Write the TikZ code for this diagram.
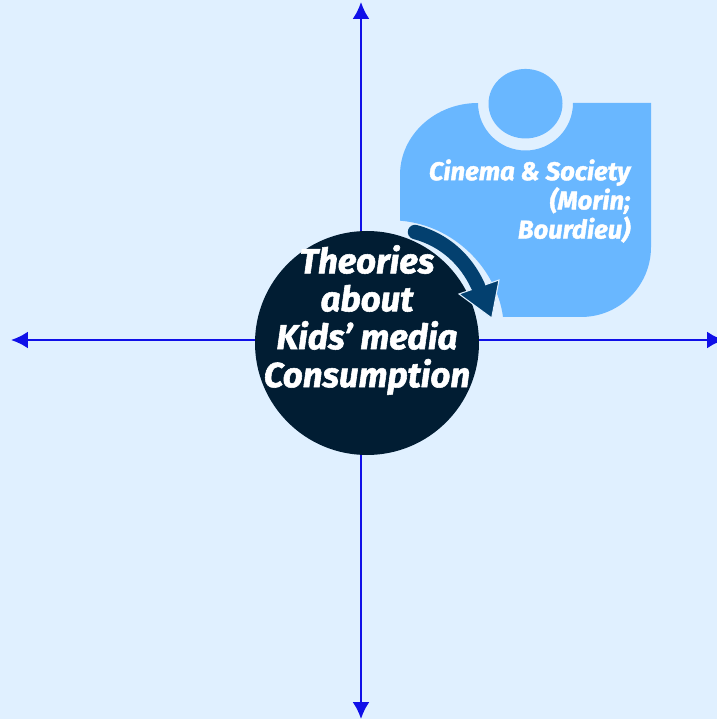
\documentclass[tikz,border=0pt]{standalone}
\usepackage{fontspec}
\setmainfont{Fira Sans}[BoldItalicFeatures = {FakeBold = 1.6}]
\usetikzlibrary{arrows.meta, shapes.geometric}
\definecolor{pagebg}{HTML}{E0F0FF}
\definecolor{cardblue}{HTML}{69B7FF}
\definecolor{hubnavy}{HTML}{011D33}
\definecolor{bendblue}{HTML}{03406F}
\definecolor{axisblue}{HTML}{1010E8}
\begin{document}
\begin{tikzpicture}[
        axis/.style = {draw = axisblue, line width = 0.6pt, -{Latex[length = 1.7mm, width = 1.7mm]}},
        hub/.style = {circle, minimum size = 2.24cm, inner sep = 0pt, fill = hubnavy},
        hubtext/.style = {text = white, align = center, font = \fontsize{9.9}{10.8}\selectfont\bfseries\itshape},
        cardtext/.style = {text = white, align = right, anchor = east, inner sep = 0pt, font = \fontsize{7.3}{8.3}\selectfont\bfseries\itshape}
    ]
    \useasboundingbox (-3.61,-3.79) rectangle (3.56,3.40);
    \clip (-3.61,-3.79) rectangle (3.56,3.40);
    \fill[pagebg] (-3.61,-3.79) rectangle (3.56,3.40);
    \coordinate (origin) at (0,0);
    \coordinate (north) at (0,3.38);
    \coordinate (south) at (0,-3.79);
    \coordinate (west) at (-3.50,0);
    \coordinate (east) at (3.63,0);
    \draw[axis] (origin) -- (north);
    \draw[axis] (origin) -- (south);
    \draw[axis] (origin) -- (west);
    \draw[axis] (origin) -- (east);
    % card with the notch
    \fill[cardblue] (1.17,2.37) arc (180:360:0.475) -- (2.90,2.37) -- (2.90,0.93)
        arc (0:-90:0.70) -- (1.42,0.23) .. controls (1.36,0.70) and (0.94,1.15) .. (0.39,1.193)
        -- (0.39,1.65) arc (180:90:0.78 and 0.72) -- cycle;
    \node[ellipse, minimum width = 0.74cm, minimum height = 0.695cm, inner sep = 0pt, fill = cardblue] (badge) at (1.645,2.363) {};
    \node[cardtext] (cinema) at (2.70,1.39) {Cinema \& Society\\(Morin;\\Bourdieu)};
    \node[hub] (theories) at (0.06,-0.03) {};
    \node[hubtext] (title) at (0.06,0.20) {Theories\\about\\Kids’ media\\Consumption};
    % bent arrow
    \filldraw[fill = bendblue, draw = pagebg, line width = 0.3pt] (1.38,0.60) -- (1.307,0.22) -- (0.98,0.46) -- cycle;
    \draw[bendblue, line width = 4.1pt, line cap = round] (0.54,1.08) .. controls (0.84,1.00) and (1.05,0.80) .. (1.17,0.54);
\end{tikzpicture}
\end{document}
